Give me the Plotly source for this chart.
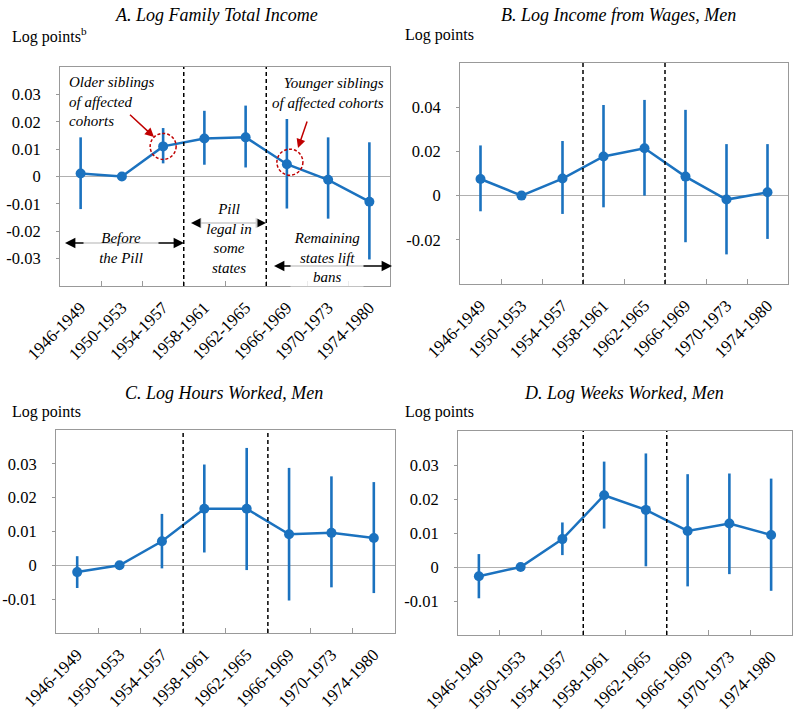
import plotly.graph_objects as go

categories = ["1946-1949", "1950-1953", "1954-1957", "1958-1961",
              "1962-1965", "1966-1969", "1970-1973", "1974-1980"]

a_vals = [0.0011, 0.0, 0.0110, 0.0139, 0.0143, 0.0045, -0.0012, -0.0092]
a_hi = [0.0143, 0.0, 0.0177, 0.0240, 0.0259, 0.0210, 0.0143, 0.0125]
a_lo = [-0.0119, 0.0, 0.0048, 0.0043, 0.0033, -0.0117, -0.0154, -0.0303]

b_vals = [0.0075, 0.0, 0.0077, 0.0177, 0.0214, 0.0086, -0.0018, 0.0015]
b_hi = [0.0227, 0.0, 0.0247, 0.0410, 0.0433, 0.0388, 0.0233, 0.0233]
b_lo = [-0.0071, 0.0, -0.0083, -0.0053, 0.0000, -0.0211, -0.0266, -0.0196]

c_vals = [-0.0020, 0.0, 0.0071, 0.0167, 0.0167, 0.0092, 0.0096, 0.0081]
c_hi = [0.0027, 0.0, 0.0152, 0.0298, 0.0347, 0.0288, 0.0263, 0.0246]
c_lo = [-0.0067, 0.0, -0.0009, 0.0038, -0.0014, -0.0104, -0.0065, -0.0082]

d_vals = [-0.0027, 0.0, 0.0082, 0.0211, 0.0168, 0.0106, 0.0128, 0.0094]
d_hi = [0.0038, 0.0, 0.0131, 0.0310, 0.0334, 0.0273, 0.0275, 0.0260]
d_lo = [-0.0092, 0.0, 0.0035, 0.0113, 0.0002, -0.0057, -0.0021, -0.0070]

titles = ["A. Log Family Total Income", "B. Log Income from Wages, Men",
          "C. Log Hours Worked, Men", "D. Log Weeks Worked, Men"]
ylabels = ["Log points<sup>b</sup>", "Log points", "Log points", "Log points"]

a_ticks = [-0.03, -0.02, -0.01, 0, 0.01, 0.02, 0.03]
b_ticks = [-0.02, 0, 0.02, 0.04]
c_ticks = [-0.01, 0, 0.01, 0.02, 0.03]
d_ticks = [-0.01, 0, 0.01, 0.02, 0.03]

BLUE = "#1b72bf"
RED = "#c00000"
FONT = "Liberation Serif"
W, H = 800, 715


def px(x):
    return x / W


def py(y):
    return 1 - y / H


panels = [
    (a_vals, a_hi, a_lo, a_ticks, [-0.04, 0.04], (60, 390), (67, 286)),
    (b_vals, b_hi, b_lo, b_ticks, [-0.04, 0.06], (460, 788), (63, 284)),
    (c_vals, c_hi, c_lo, c_ticks, [-0.02, 0.04], (56, 395), (430, 633)),
    (d_vals, d_hi, d_lo, d_ticks, [-0.02, 0.04], (458, 792), (431, 635)),
]

fig = go.Figure()
layout = {}
shapes = []
for i, (v, hi, lo, ticks, yr, (x0, x1), (y0, y1)) in enumerate(panels):
    n = "" if i == 0 else str(i + 1)
    fig.add_trace(go.Scatter(
        x=categories, y=v, mode="lines+markers",
        xaxis="x" + n, yaxis="y" + n,
        line=dict(color=BLUE, width=2.5),
        marker=dict(color=BLUE, size=10),
        error_y=dict(type="data",
                     array=[h - val for h, val in zip(hi, v)],
                     arrayminus=[val - l for l, val in zip(lo, v)],
                     color=BLUE, thickness=2.6, width=0),
        showlegend=False, cliponaxis=False, hoverinfo="skip",
    ))
    layout["xaxis" + n] = dict(
        domain=[px(x0), px(x1)], anchor="y" + n, type="category",
        range=[-0.5, 7.5], tickson="boundaries", ticks="inside", ticklen=5,
        tickcolor="#999999", tickangle=-45, showline=True, mirror=True,
        linecolor="#999999", linewidth=1, showgrid=False, automargin=False,
        ticklabelstandoff=4,
        tickfont=dict(family=FONT, size=17, color="black"),
    )
    layout["yaxis" + n] = dict(
        domain=[py(y1), py(y0)], anchor="x" + n, range=yr,
        tickvals=ticks, ticktext=[("0" if t == 0 else f"{t:.2f}") for t in ticks],
        ticks="outside", ticklen=3, tickcolor="#999999", automargin=False,
        showline=True, mirror=True, linecolor="#999999", linewidth=1,
        showgrid=False, zeroline=True, zerolinecolor="#b0b0b0", zerolinewidth=1,
        ticklabelstandoff=12,
        tickfont=dict(family=FONT, size=16.5, color="black"),
    )
    for xb in (2.5, 4.5):
        shapes.append(dict(type="line", xref="x" + n, yref="y" + n + " domain",
                           x0=xb, x1=xb, y0=0, y1=1,
                           line=dict(color="black", width=1.5, dash="4px,3px")))

# red dashed circles in panel A
shapes.append(dict(type="circle", xref="x", yref="y", xsizemode="pixel",
                   ysizemode="pixel", xanchor=2, yanchor=a_vals[2],
                   x0=-13, x1=13, y0=-13, y1=13,
                   line=dict(color=RED, width=1.5, dash="3px,2px")))
shapes.append(dict(type="circle", xref="x", yref="y", xsizemode="pixel",
                   ysizemode="pixel", xanchor=5, yanchor=a_vals[5],
                   x0=-10, x1=16, y0=-11, y1=15,
                   line=dict(color=RED, width=1.5, dash="3px,2px")))

annotations = []
title_pos = [(216, 15), (618, 15), (224, 393), (624, 393)]
label_pos = [(10, 35), (403, 35), (10, 412), (403, 412)]
for t, (tx, ty), lab, (lx, ly) in zip(titles, title_pos, ylabels, label_pos):
    annotations.append(dict(text="<i>" + t + "</i>", xref="paper", yref="paper",
                            x=px(tx), y=py(ty), xanchor="center", yanchor="middle",
                            showarrow=False, font=dict(family=FONT, size=18, color="black")))
    annotations.append(dict(text=lab, xref="paper", yref="paper",
                            x=px(lx), y=py(ly), xanchor="left", yanchor="middle",
                            showarrow=False, font=dict(family=FONT, size=16, color="black")))

# double-headed arrows (period spans)
for (xl, xr, ya) in [(62, 184, 243), (188, 266, 223), (271, 392, 266)]:
    annotations.append(dict(text=" ", xref="paper", yref="paper", x=px(xr), y=py(ya),
                            ax=xl - xr, ay=0, axref="pixel", ayref="pixel",
                            showarrow=True, arrowside="end+start", arrowhead=2,
                            arrowsize=1.3, arrowwidth=1.6, arrowcolor="black"))

ann_font = dict(family=FONT, size=15, color="black")
for txt, (cx, cy, w) in [("<i>Before<br>the Pill</i>", (121, 248, 72)),
                         ("<i>Pill<br>legal in<br>some<br>states</i>", (229, 238, 54)),
                         ("<i>Remaining<br>states lift<br>bans</i>", (327, 257, 70))]:
    annotations.append(dict(text=txt, xref="paper", yref="paper", x=px(cx), y=py(cy),
                            xanchor="center", yanchor="middle", showarrow=False,
                            width=w, bgcolor="rgba(255,255,255,0.8)", font=ann_font))

# sibling labels and red arrows
annotations.append(dict(text="<i>Older siblings<br>of affected<br>cohorts</i>", xref="paper",
                        yref="paper", x=px(67), y=py(101), xanchor="left", yanchor="middle",
                        align="left", showarrow=False, font=ann_font))
annotations.append(dict(text="<i>Younger siblings<br>of affected cohorts</i>", xref="paper",
                        yref="paper", x=px(386), y=py(93), xanchor="right", yanchor="middle",
                        align="right", showarrow=False, font=ann_font))
annotations.append(dict(text=" ", xref="paper", yref="paper", x=px(154), y=py(137),
                        ax=-27, ay=-25, showarrow=True, arrowhead=2, arrowsize=1.2,
                        arrowwidth=1.5, arrowcolor=RED))
annotations.append(dict(text=" ", xref="paper", yref="paper", x=px(298), y=py(148),
                        ax=12, ay=-35, showarrow=True, arrowhead=2, arrowsize=1.2,
                        arrowwidth=1.5, arrowcolor=RED))

fig.update_layout(
    width=W, height=H, margin=dict(l=0, r=0, t=0, b=0),
    paper_bgcolor="white", plot_bgcolor="white",
    font=dict(family=FONT, color="black"), hovermode=False,
    shapes=shapes, annotations=annotations, **layout,
)
fig.write_html("out.html", config={"displayModeBar": False},
               post_script="document.body.style.margin='0';document.body.style.overflow='hidden';")
